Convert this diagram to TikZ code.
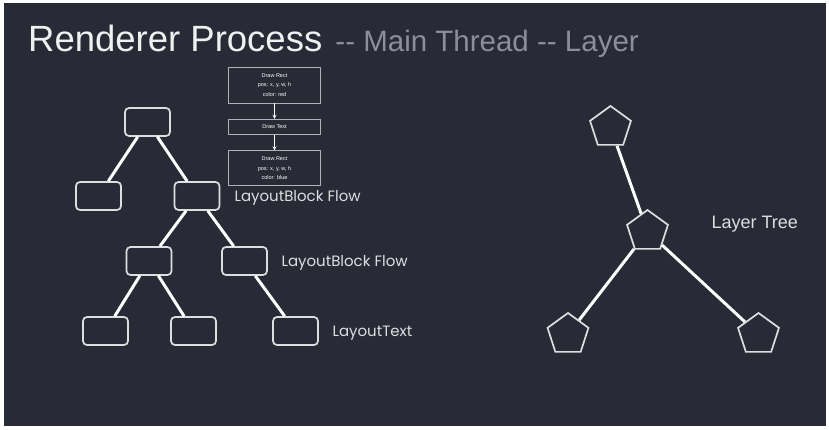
\documentclass[tikz,border=0pt]{standalone}
\usepackage{fontspec}
\setmainfont{Liberation Sans}
\newfontfamily\labelfont{Poppins}
\usetikzlibrary{shapes.geometric}
\definecolor{slidebg}{RGB}{40,42,54}
\definecolor{edgegray}{RGB}{222,222,224}
\definecolor{subgray}{RGB}{140,143,153}

\begin{document}
\begin{tikzpicture}[x=1pt,y=-1pt,
  box/.style={draw=edgegray,line width=1.7pt,rounded corners=4pt,minimum width=45pt,minimum height=28pt,inner sep=0pt},
  layer/.style={draw=edgegray,line width=1.7pt,regular polygon,regular polygon sides=5,minimum size=43pt,inner sep=0pt},
  cmd/.style={draw=edgegray!75!slidebg,line width=0.8pt,minimum width=92pt,inner sep=0pt,align=center,text=white,font=\fontsize{5.5}{9.5}\selectfont},
  lbl/.style={anchor=west,text=edgegray,font=\labelfont\fontsize{15}{17}\selectfont},
  link/.style={draw=white,line width=3pt}]
\useasboundingbox (0,0) rectangle (829,430);
\fill[white] (0,0) rectangle (829,430);
\fill[slidebg] (4,3) rectangle (826,426);

\node[anchor=base west,inner sep=0pt,text=white!93!slidebg,font=\fontsize{36.5}{40}\selectfont] (title) at (28,52)
  {Renderer Process\hspace{3pt} {\color{subgray}\fontsize{29.5}{32}\selectfont -{}- Main Thread -{}- Layer}};

\node[box] (root) at (147.5,122) {};
\node[box] (flowl) at (98.5,196) {};
\node[box] (flowr) at (197,196) {};
\node[box] (blocka) at (149,261) {};
\node[box] (blockb) at (244.5,261) {};
\node[box] (texta) at (105.5,331) {};
\node[box] (textb) at (193.5,331) {};
\node[box] (textc) at (295.5,331) {};

\foreach \i/\j in {root/flowl, root/flowr, flowr/blocka, flowr/blockb,%
            blocka/texta, blocka/textb, blockb/textc%
            }
    \draw[link] (\i) -- (\j);

\node[cmd,minimum height=36pt] (rect1) at (274.5,85) {Draw Rect\\pos: x, y, w, h\\color: red};
\node[cmd,minimum height=15pt] (drawtext) at (274.5,126.7) {Draw Text};
\node[cmd,minimum height=35pt] (rect2) at (274.5,168.3) {Draw Rect\\pos: x, y, w, h\\color: blue};
\draw[white,line width=0.8pt,-stealth] (rect1) -- (drawtext);
\draw[white,line width=0.8pt,-stealth] (drawtext) -- (rect2);

\node[lbl] (lflow1) at (231,198) {LayoutBlock Flow};
\node[lbl] (lflow2) at (278,263) {LayoutBlock Flow};
\node[lbl] (ltext) at (329,333) {LayoutText};

\node[layer] (ltop) at (610.5,127.5) {};
\node[layer] (lmid) at (647.5,231.5) {};
\node[layer] (lleft) at (568,334.5) {};
\node[layer] (lright) at (758.5,334.5) {};

\foreach \i/\j in {ltop/lmid, lmid/lleft, lmid/lright}
    \draw[link] (\i) -- (\j);

\node[anchor=west,text=edgegray,font=\fontsize{18}{20}\selectfont] (ltree) at (708,224) {Layer Tree};

\end{tikzpicture}
\end{document}
